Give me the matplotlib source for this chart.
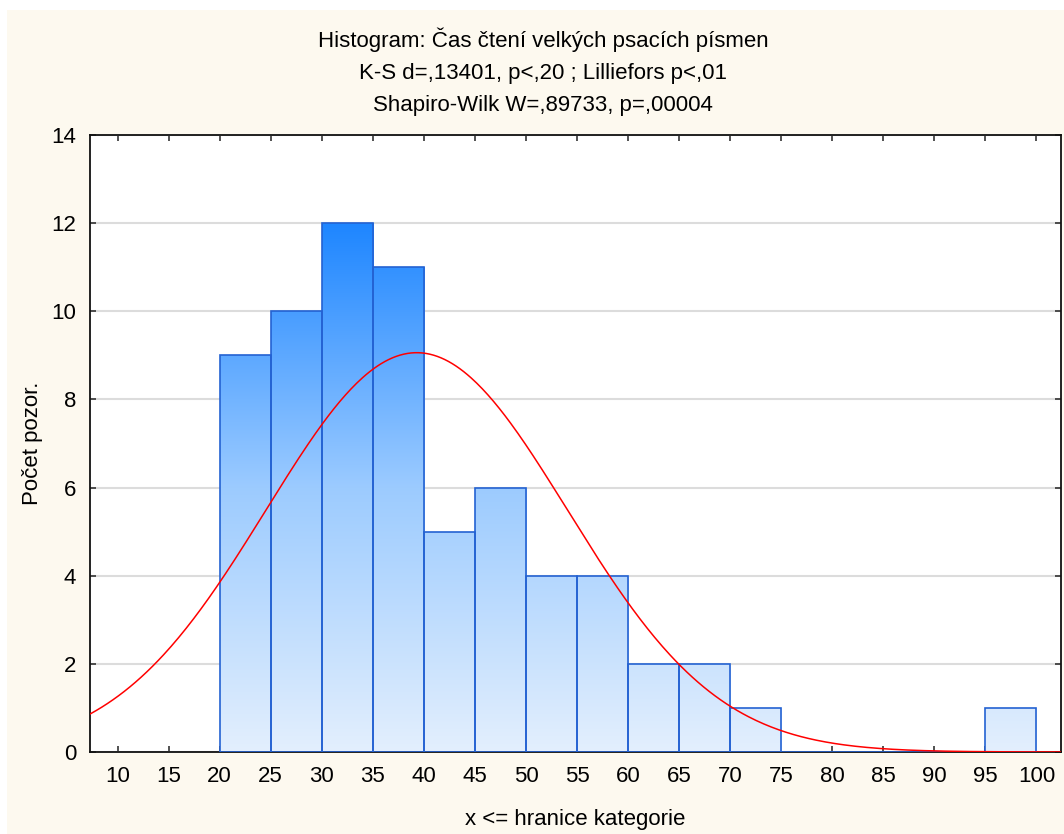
import matplotlib
matplotlib.use('Agg')
import matplotlib.pyplot as plt
import numpy as np
from matplotlib.colors import LinearSegmentedColormap
from matplotlib.patches import Rectangle

plt.rcParams['font.family'] = ['Liberation Sans', 'DejaVu Sans']

# histogram data: class upper bounds (x <= bound) and counts
bin_edges = [20, 25, 30, 35, 40, 45, 50, 55, 60, 65, 70, 75, 80, 85, 90, 95, 100]
counts = [9, 10, 12, 11, 5, 6, 4, 4, 2, 2, 1, 0, 0, 0, 0, 1]
n_obs = 67
fit_mean = 39.3
fit_sd = 14.75

x_ticks = [10, 15, 20, 25, 30, 35, 40, 45, 50, 55, 60, 65, 70, 75, 80, 85, 90, 95, 100]
y_ticks = [0, 2, 4, 6, 8, 10, 12, 14]

title_lines = ['Histogram: Čas čtení velkých psacích písmen',
               'K-S d=,13401, p<,20 ; Lilliefors p<,01',
               'Shapiro-Wilk W=,89733, p=,00004']

W, H = 1064, 834
FS = 16
fig = plt.figure(figsize=(W / 100, H / 100), dpi=100)
fig.patch.set_facecolor('white')
fig.patches.append(Rectangle((7 / W, 0), 1 - 7 / W, (H - 10) / H,
                             transform=fig.transFigure, facecolor='#fdf9ef',
                             edgecolor='none', zorder=-10))

ax = fig.add_axes([90 / W, (H - 752) / H, (1061 - 90) / W, (752 - 135) / H])
ax.set_facecolor('white')

lefts = np.array(bin_edges[:-1])
widths = np.diff(bin_edges)

# gradient fill clipped to each bar
cmap = LinearSegmentedColormap.from_list('bars', ['#e3effd', '#9ccbff', '#1e86ff'])
grad = np.linspace(0, 1, 256).reshape(-1, 1)
bars = ax.bar(lefts, counts, width=widths, align='edge', facecolor='none',
              edgecolor='#2462d2', linewidth=1.2, zorder=3)
for b, c in zip(bars, counts):
    if c == 0:
        continue
    im = ax.imshow(grad, cmap=cmap, origin='lower', aspect='auto',
                   extent=[0, 110, 0, 12], zorder=2, interpolation='bilinear')
    im.set_clip_path(b)

# fitted normal curve, scaled to counts
xs = np.linspace(0, 110, 600)
ys = n_obs * 5 / (fit_sd * np.sqrt(2 * np.pi)) * np.exp(-0.5 * ((xs - fit_mean) / fit_sd) ** 2)
ax.plot(xs, ys, color='#ff0000', linewidth=1.1, zorder=4)

ax.set_xlim(7.3, 102.4)
ax.set_ylim(0, 14)
ax.set_xticks(x_ticks)
ax.set_yticks(y_ticks)
ax.yaxis.grid(True, color='#dcdcdc', linewidth=1.5, zorder=0)
ax.set_axisbelow(True)
ax.tick_params(direction='in', length=4, width=1.2, color='#333333',
               top=True, right=True, labelsize=FS, pad=10)
for s in ax.spines.values():
    s.set_linewidth(1.3)
    s.set_color('#111111')

ax.set_ylabel('Počet pozor.', fontsize=FS, labelpad=6)
ax.set_xlabel('x <= hranice kategorie', fontsize=FS, labelpad=16)

for i, t in enumerate(title_lines):
    fig.text(543 / W, 1 - (40 + 33 * i) / H, t, ha='center', va='center', fontsize=FS)

fig.savefig('out.png', dpi=100, facecolor=fig.get_facecolor())
